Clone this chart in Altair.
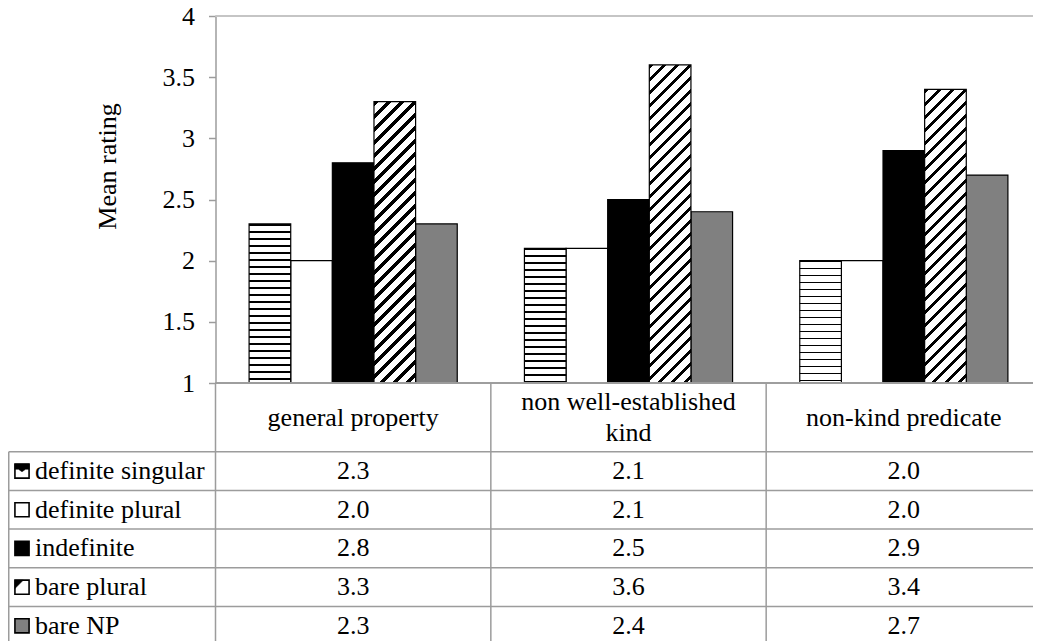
import math
import altair as alt
import pandas as pd

# ---------------- data ----------------
categories = ["general property", "non well-established\nkind", "non-kind predicate"]
series = ["definite singular", "definite plural", "indefinite", "bare plural", "bare NP"]
definite_singular = [2.3, 2.1, 2.0]
definite_plural = [2.0, 2.1, 2.0]
indefinite = [2.8, 2.5, 2.9]
bare_plural = [3.3, 3.6, 3.4]
bare_np = [2.3, 2.4, 2.7]
y_ticks = [1, 1.5, 2, 2.5, 3, 3.5, 4]

values_by_series = [definite_singular, definite_plural, indefinite, bare_plural, bare_np]
records = []
for s, vals in zip(series, values_by_series):
    for c, v in zip(categories, vals):
        records.append({"series": s, "category": c, "value": v})
df = pd.DataFrame(records)
cat_df = pd.DataFrame({"category": categories})
cat_df["lines"] = cat_df["category"].str.count("\n") + 1
ser_df = pd.DataFrame({"series": series})

# ---------------- layout ----------------
W, H = 1025, 640
AX = 207.5          # y-axis / first table column line
XR = 1033.5         # right edge of the table
YTOP, YBOT = 8.0, 375.0
HEAD_BOTTOM = 443.7
ROW_H = 38.7
HEAD_MID = 409.5
LH = 31
FONT = "Liberation Serif"
FS = 26
LINE = "#9c9c9c"
GRIDC = "#c4c4c4"
PO = 0.807

xs = alt.Scale(domain=categories, range=[AX, XR], paddingInner=0, paddingOuter=0)
xos = alt.Scale(domain=series, paddingInner=0, paddingOuter=PO)
ys = alt.Scale(domain=[1, 4], range=[YBOT, YTOP], zero=False, nice=False)
rows = alt.Scale(domain=series, range=[HEAD_BOTTOM, HEAD_BOTTOM + 5 * ROW_H],
                 paddingInner=0, paddingOuter=0)

yaxis = alt.Axis(values=y_ticks, format="~g", offset=-AX, tickSize=7, labelPadding=14,
                 labelFont=FONT, labelFontSize=FS, labelColor="black",
                 domainColor=LINE, tickColor=LINE, domainWidth=1.5, tickWidth=1.5,
                 grid=False, title="Mean rating", titleFont=FONT, titleFontSize=FS,
                 titleFontWeight="normal", titleColor="black", titleX=-108.5, titleY=158,
                 titleAngle=270, titleAlign="center", titleBaseline="middle")

step = (XR - AX) / 3
bar_w = step / (5 + 2 * PO)
unit = (YBOT - YTOP) / 3


def stripe_stops(n_periods, frac):
    stops = []
    for k in range(int(math.ceil(n_periods))):
        a = k / n_periods
        b = min((k + frac) / n_periods, 1.0)
        c = min((k + 1) / n_periods, 1.0)
        stops += [{"offset": round(a, 5), "color": "black"},
                  {"offset": round(b, 5), "color": "black"},
                  {"offset": round(b, 5), "color": "white"},
                  {"offset": round(c, 5), "color": "white"}]
    return stops


def diag_gradient(v):
    w, h = bar_w, (v - 1) * unit
    s = (w + h) / (w * w + h * h)
    n = (w + h) / 13.0
    return {"gradient": "linear", "x1": 0, "y1": 0, "x2": w * s, "y2": h * s,
            "stops": stripe_stops(n, 0.36)}


def wave_gradient(v):
    h = (v - 1) * unit
    n = h / 7.0
    return {"gradient": "linear", "x1": 0, "y1": 0, "x2": 0, "y2": 1,
            "stops": stripe_stops(n, 0.24)}


def bar_enc(ch):
    return ch.encode(
        x=alt.X("category:N", scale=xs, axis=None, sort=categories),
        xOffset=alt.XOffset("series:N", scale=xos, sort=series),
        y=alt.Y("value:Q", scale=ys, axis=yaxis),
        y2=alt.datum(1),
    )


base = alt.Chart(df)

solid = bar_enc(
    base.transform_filter(alt.FieldOneOfPredicate(field="series",
                                                  oneOf=["definite plural", "indefinite", "bare NP"]))
    .mark_bar(stroke="black", strokeWidth=1.2)
).encode(color=alt.Color("series:N", legend=None,
                         scale=alt.Scale(domain=["definite plural", "indefinite", "bare NP"],
                                         range=["white", "black", "#808080"])))

bar_layers = [solid]
for s, vals, grad_fn in [("definite singular", definite_singular, wave_gradient),
                         ("bare plural", bare_plural, diag_gradient)]:
    for c, v in zip(categories, vals):
        layer = bar_enc(
            base.transform_filter(alt.FieldEqualPredicate(field="series", equal=s))
            .transform_filter(alt.FieldEqualPredicate(field="category", equal=c))
            .mark_bar(fill=grad_fn(v), stroke="black", strokeWidth=1.2)
        )
        bar_layers.append(layer)

top_rule = alt.Chart(cat_df).mark_rule(color=GRIDC, strokeWidth=1.5).encode(
    y=alt.datum(4), x=alt.value(AX), x2=alt.value(XR))
axis_rule = alt.Chart(cat_df).mark_rule(color=LINE, strokeWidth=1.5).encode(
    y=alt.datum(1), x=alt.value(AX), x2=alt.value(XR))

bars = alt.layer(top_rule, *bar_layers, axis_rule)

# ---------------- data table ----------------
row_lines = alt.Chart(ser_df).mark_rule(color=LINE, strokeWidth=1.5).encode(
    y=alt.Y("series:N", scale=rows, axis=None, sort=series, bandPosition=0),
    x=alt.value(0.75), x2=alt.value(XR))
col_lines = alt.Chart(cat_df).mark_rule(color=LINE, strokeWidth=1.5).encode(
    x=alt.X("category:N", scale=xs, axis=None, sort=categories, bandPosition=0),
    y=alt.value(YBOT), y2=alt.value(H + 10))
left_line = alt.Chart(cat_df.head(1)).mark_rule(color=LINE, strokeWidth=1.5).encode(
    x=alt.value(0.75), y=alt.value(HEAD_BOTTOM), y2=alt.value(H + 10))

header_layers = []
for n_lines in sorted(cat_df["lines"].unique()):
    header_layers.append(
        alt.Chart(cat_df).transform_filter(alt.FieldEqualPredicate(field="lines", equal=int(n_lines)))
        .mark_text(font=FONT, fontSize=FS, lineBreak="\n", lineHeight=LH,
                   align="center", baseline="middle", color="black")
        .encode(x=alt.X("category:N", scale=xs, axis=None, sort=categories),
                y=alt.value(HEAD_MID - (int(n_lines) - 1) * LH / 2),
                text="category:N")
    )

cells = alt.Chart(df).mark_text(font=FONT, fontSize=FS, align="center", baseline="middle",
                                color="black").encode(
    x=alt.X("category:N", scale=xs, axis=None, sort=categories),
    y=alt.Y("series:N", scale=rows, axis=None, sort=series),
    text=alt.Text("value:Q", format=".1f"))

labels = alt.Chart(ser_df).mark_text(font=FONT, fontSize=FS, align="left", baseline="middle",
                                     color="black").encode(
    x=alt.value(27),
    y=alt.Y("series:N", scale=rows, axis=None, sort=series),
    text="series:N")

SQ = "M-1,-1H1V1H-1Z"
SW_X = 14
SW_SIZE = 200


def swatch(name, shape, fill, stroke, sw):
    return alt.Chart(ser_df).transform_filter(
        alt.FieldEqualPredicate(field="series", equal=name)
    ).mark_point(shape=shape, filled=True, fill=fill, stroke=stroke, strokeWidth=sw,
                 size=SW_SIZE, opacity=1).encode(
        x=alt.value(SW_X),
        y=alt.Y("series:N", scale=rows, axis=None, sort=series))


swatches = [
    swatch("definite singular", SQ, "white", "black", 1.6),
    swatch("definite singular", "M-1,-1H1V-0.25H0.5L0,0.1L-0.5,-0.25H-1Z", "black", "black", 0.5),
    swatch("definite plural", SQ, "white", "black", 1.6),
    swatch("indefinite", SQ, "black", "black", 1.6),
    swatch("bare plural", SQ, "white", "black", 1.6),
    swatch("bare plural", "M-1,-1H0.2L-1,0.2Z", "black", "black", 0.5),
    swatch("bare NP", SQ, "#808080", "black", 1.6),
]

table = alt.layer(row_lines, col_lines, left_line, *header_layers, cells, labels, *swatches)

chart = alt.layer(bars, table).resolve_scale(y="independent").properties(
    width=W, height=H, padding=0, background="white",
    autosize=alt.AutoSizeParams(type="none"),
).configure_view(stroke=None)

chart.save("out.html", embed_options={"renderer": "svg", "actions": False})
